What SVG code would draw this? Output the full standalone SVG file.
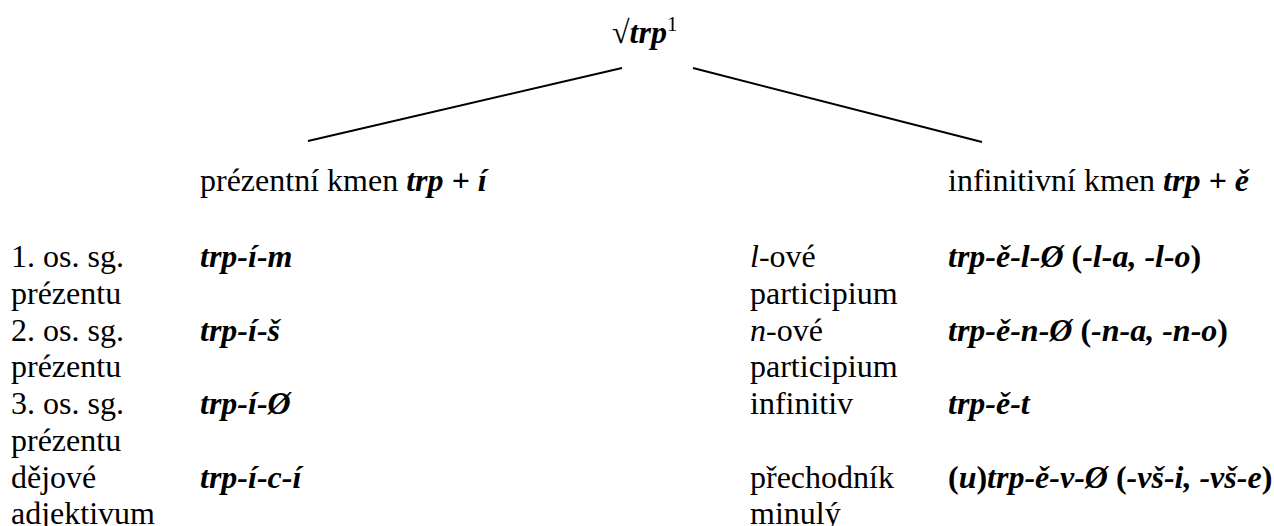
<svg xmlns="http://www.w3.org/2000/svg" width="1274" height="526" viewBox="0 0 1274 526" font-family="'Liberation Serif', 'Times New Roman', Times, 'DejaVu Serif', serif">
<style>
text{font-family:'Liberation Serif','Times New Roman',Times,'DejaVu Serif',serif;font-size:32px;fill:#000}
.bi{font-weight:bold;font-style:italic}
.b{font-weight:bold}
.i{font-style:italic}
.sup{font-size:21px}
.conn line{stroke:#000;stroke-width:2}
</style>
<rect width="1274" height="526" fill="#fff"/>
<g id="root"><text x="612" y="43">√<tspan class="bi">trp</tspan><tspan class="sup" dy="-12">1</tspan></text></g>
<g class="conn" id="connectors">
<line x1="622" y1="68" x2="308" y2="141"/>
<line x1="693" y1="68" x2="982" y2="142"/>
</g>
<g id="present-stem"><text x="200" y="191">prézentní kmen <tspan class="bi">trp + í</tspan></text></g>
<g id="infinitive-stem"><text x="948" y="191">infinitivní kmen <tspan class="bi">trp + ě</tspan></text></g>
<g id="present-forms">
<text x="11" y="267">1. os. sg.</text><text x="11" y="304">prézentu</text><text class="bi" x="200" y="267">trp-í-m</text>
<text x="11" y="341">2. os. sg.</text><text x="11" y="377">prézentu</text><text class="bi" x="200" y="341">trp-í-š</text>
<text x="11" y="414">3. os. sg.</text><text x="11" y="451">prézentu</text><text class="bi" x="200" y="414">trp-í-Ø</text>
<text x="11" y="488">dějové</text><text x="11" y="524">adjektivum</text><text class="bi" x="200" y="488">trp-í-c-í</text>
</g>
<g id="infinitive-forms">
<text x="750" y="267"><tspan class="i">l</tspan>-ové</text><text x="750" y="304">participium</text>
<text x="948" y="267"><tspan class="bi">trp-ě-l-Ø </tspan><tspan class="b">(</tspan><tspan class="bi">-l-a, -l-o</tspan><tspan class="b">)</tspan></text>
<text x="750" y="341"><tspan class="i">n</tspan>-ové</text><text x="750" y="377">participium</text>
<text x="948" y="341"><tspan class="bi">trp-ě-n-Ø </tspan><tspan class="b">(</tspan><tspan class="bi">-n-a, -n-o</tspan><tspan class="b">)</tspan></text>
<text x="750" y="414">infinitiv</text>
<text class="bi" x="948" y="414">trp-ě-t</text>
<text x="750" y="488">přechodník</text><text x="750" y="524">minulý</text>
<text x="948" y="488"><tspan class="b">(</tspan><tspan class="bi">u</tspan><tspan class="b">)</tspan><tspan class="bi">trp-ě-v-Ø </tspan><tspan class="b">(</tspan><tspan class="bi">-vš-i, -vš-e</tspan><tspan class="b">)</tspan></text>
</g>
</svg>
